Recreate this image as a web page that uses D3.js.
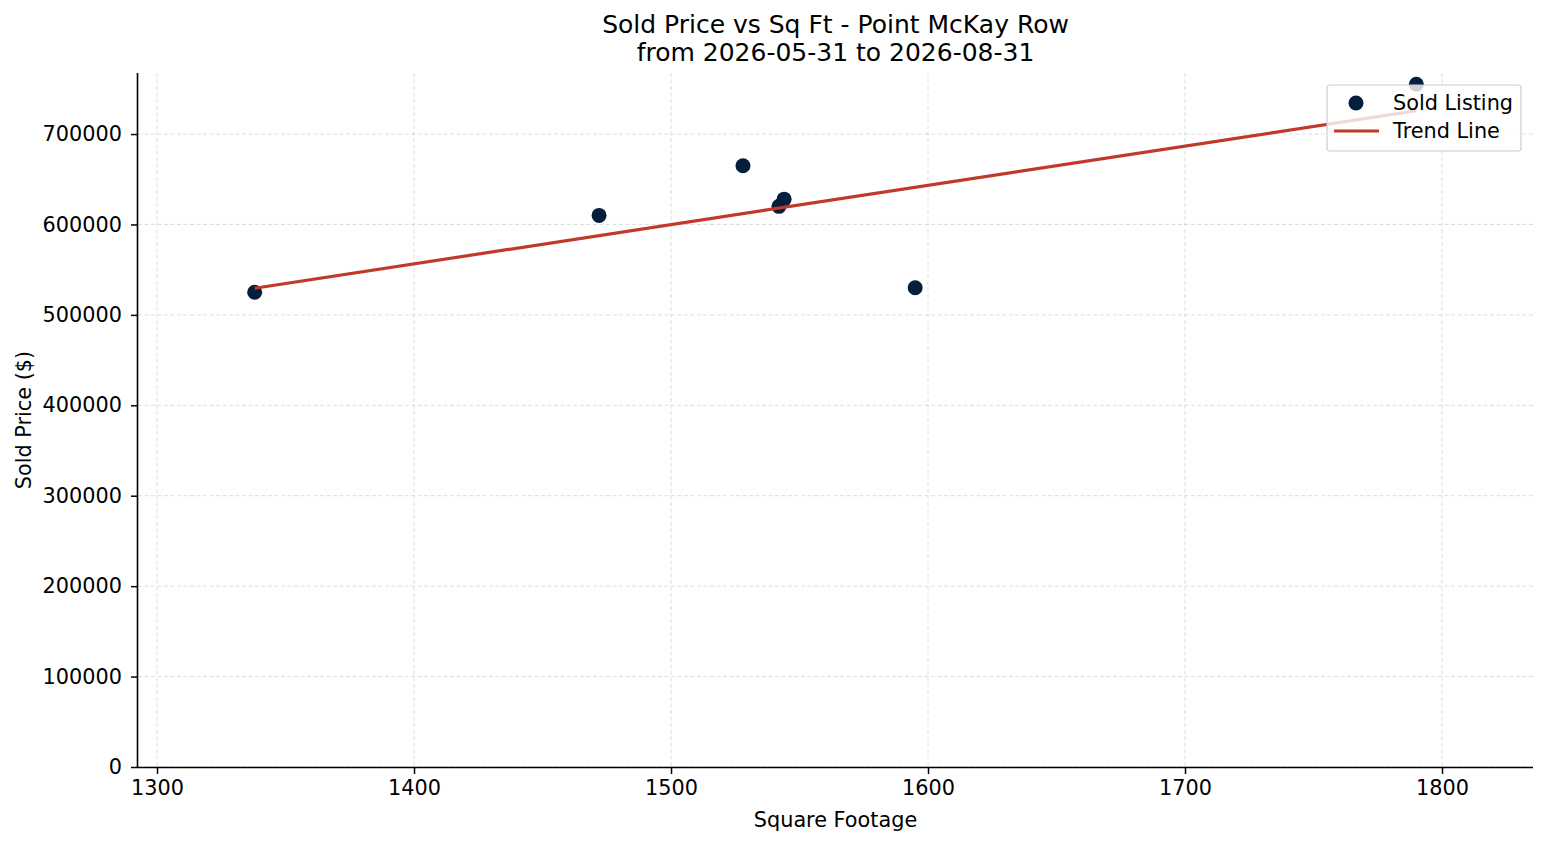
<!DOCTYPE html>
<html>
<head>
<meta charset="utf-8">
<script src="https://cdn.jsdelivr.net/npm/d3@7"></script>
<style>
  html, body { margin: 0; padding: 0; background: #fff; }
  svg { display: block; font-family: "DejaVu Sans", sans-serif; }
  svg text { font-family: "DejaVu Sans", sans-serif; }
  .tick text { font-size: 20.8px; fill: #000; }
  .tick line { stroke: #000; }
  .domain { stroke: #000; }
</style>
</head>
<body>
<div id="chart"></div>
<script>
// ---- data ----
var sqft   = [1338, 1472, 1528, 1542, 1544, 1595, 1790];
var prices = [525000, 610000, 665000, 620000, 628000, 530000, 755000];
var xTicks = [1300, 1400, 1500, 1600, 1700, 1800];
var yTicks = [0, 100000, 200000, 300000, 400000, 500000, 600000, 700000];
var xDomain = [1292.6, 1835.4];
var yDomain = [0, 767500];

var W = 1547, H = 845;
var margin = { top: 73, right: 14, bottom: 78, left: 138 };
var iw = W - margin.left - margin.right, ih = H - margin.top - margin.bottom;
var FS = 20.8;

var svg = d3.select("#chart").append("svg").attr("width", W).attr("height", H);
var g = svg.append("g").attr("transform", "translate(" + margin.left + "," + margin.top + ")");

var x = d3.scaleLinear().domain(xDomain).range([0, iw]);
var y = d3.scaleLinear().domain(yDomain).range([ih, 0]);

// ---- dashed grid ----
var grid = g.append("g").attr("stroke", "#b0b0b0").attr("stroke-opacity", 0.55)
  .attr("stroke-width", 0.8).attr("stroke-dasharray", "4 2.5");
grid.selectAll("line.v").data(xTicks).enter().append("line")
  .attr("x1", function (d) { return x(d); }).attr("x2", function (d) { return x(d); })
  .attr("y1", 0).attr("y2", ih);
grid.selectAll("line.h").data(yTicks).enter().append("line")
  .attr("x1", 0).attr("x2", iw)
  .attr("y1", function (d) { return y(d); }).attr("y2", function (d) { return y(d); });

// ---- axes (left + bottom spines only) ----
var xAxis = g.append("g").attr("transform", "translate(0," + ih + ")")
  .call(d3.axisBottom(x).tickValues(xTicks).tickFormat(d3.format("d")).tickSizeOuter(0).tickSize(7).tickPadding(6));
var yAxis = g.append("g")
  .call(d3.axisLeft(y).tickValues(yTicks).tickFormat(d3.format("d")).tickSizeOuter(0).tickSize(7).tickPadding(9));
[xAxis, yAxis].forEach(function (a) {
  a.attr("font-family", null).attr("font-size", null);
  a.selectAll(".tick line").attr("stroke-width", 1.5);
  a.select(".domain").attr("stroke-width", 1.6);
});
xAxis.select(".domain").attr("d", "M0,0.5H" + iw);
yAxis.select(".domain").attr("d", "M-0.5,0V" + ih);

// axis labels
svg.append("text").attr("x", margin.left + iw / 2).attr("y", 827)
  .attr("text-anchor", "middle").attr("font-size", FS).text("Square Footage");
svg.append("text").attr("transform", "translate(31," + (margin.top + ih / 2) + ") rotate(-90)")
  .attr("text-anchor", "middle").attr("font-size", FS).text("Sold Price ($)");

// title
svg.append("text").attr("x", margin.left + iw / 2).attr("y", 33)
  .attr("text-anchor", "middle").attr("font-size", 25).text("Sold Price vs Sq Ft - Point McKay Row");
svg.append("text").attr("x", margin.left + iw / 2).attr("y", 61)
  .attr("text-anchor", "middle").attr("font-size", 25).text("from 2026-05-31 to 2026-08-31");

// ---- points ----
var pts = sqft.map(function (s, i) { return { s: s, p: prices[i] }; });
g.append("g").selectAll("circle").data(pts).enter().append("circle")
  .attr("cx", function (d) { return x(d.s); })
  .attr("cy", function (d) { return y(d.p); })
  .attr("r", 7.5)
  .attr("fill", "#041e3c");

// ---- least-squares trend line over the listings ----
var mx = d3.mean(sqft), my = d3.mean(prices);
var sxy = d3.sum(pts, function (d) { return (d.s - mx) * (d.p - my); });
var sxx = d3.sum(pts, function (d) { return (d.s - mx) * (d.s - mx); });
var slope = sxy / sxx, icpt = my - slope * mx;
var ends = d3.extent(sqft);
g.append("line")
  .attr("x1", x(ends[0])).attr("y1", y(icpt + slope * ends[0]))
  .attr("x2", x(ends[1])).attr("y2", y(icpt + slope * ends[1]))
  .attr("stroke", "#c0392b").attr("stroke-width", 3.2);

// ---- legend (semi-opaque box, upper right) ----
var lg = svg.append("g").attr("transform", "translate(1327,85)");
lg.append("rect").attr("width", 194).attr("height", 66).attr("rx", 3)
  .attr("fill", "#fff").attr("fill-opacity", 0.8)
  .attr("stroke", "#cccccc").attr("stroke-width", 1.2);
lg.append("circle").attr("cx", 29).attr("cy", 18).attr("r", 7.5).attr("fill", "#041e3c");
lg.append("line").attr("x1", 7).attr("x2", 52).attr("y1", 46).attr("y2", 46)
  .attr("stroke", "#c0392b").attr("stroke-width", 3.2);
lg.append("text").attr("x", 66).attr("y", 18).attr("dy", "0.36em").attr("font-size", FS).text("Sold Listing");
lg.append("text").attr("x", 66).attr("y", 46).attr("dy", "0.36em").attr("font-size", FS).text("Trend Line");
</script>
</body>
</html>
